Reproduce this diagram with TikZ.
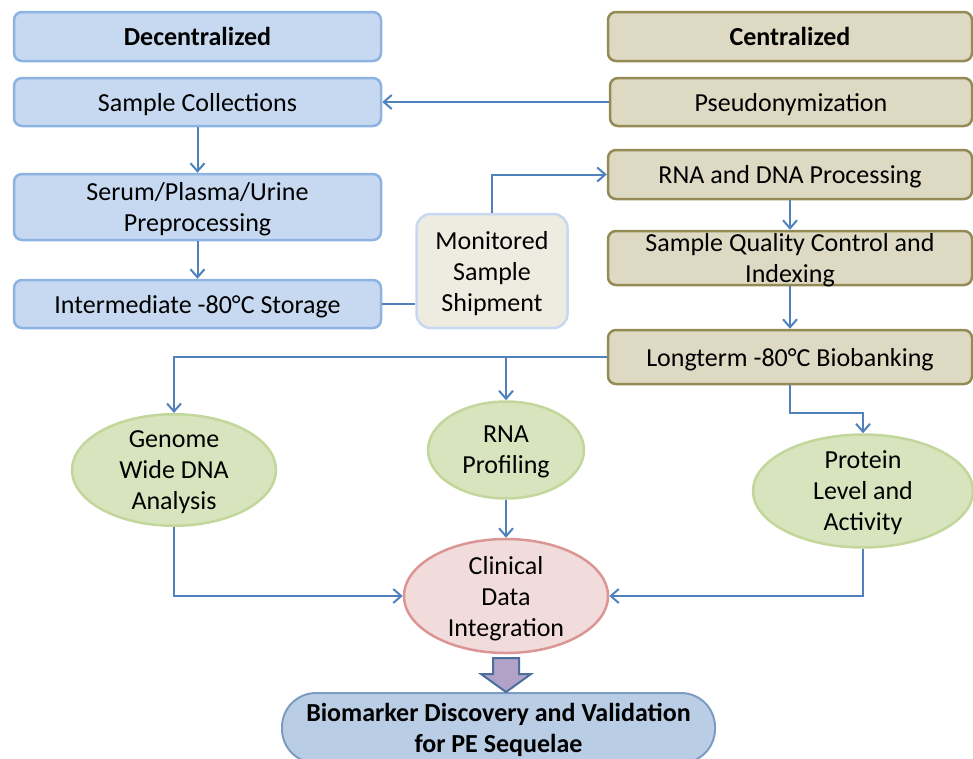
\documentclass[tikz,border=0pt]{standalone}
\usepackage{fontspec}
\setmainfont{Carlito}
\usetikzlibrary{arrows.meta,shapes.geometric}
\definecolor{bfill}{HTML}{C6D9F1}
\definecolor{bdraw}{HTML}{8DB3E2}
\definecolor{tfill}{HTML}{DDD9C3}
\definecolor{tdraw}{HTML}{948A54}
\definecolor{mfill}{HTML}{EEECE1}
\definecolor{mdraw}{HTML}{C6D9F1}
\definecolor{gfill}{HTML}{D7E4BD}
\definecolor{gdraw}{HTML}{C3D69B}
\definecolor{pfill}{HTML}{F2DCDB}
\definecolor{pdraw}{HTML}{D99694}
\definecolor{zfill}{HTML}{B9CDE5}
\definecolor{zdraw}{HTML}{7E9CC2}
\definecolor{afill}{HTML}{B3A2C7}
\definecolor{adraw}{HTML}{4A6E9E}
\definecolor{conn}{HTML}{4F81BD}
\tikzset{
  base/.style={font=\fontsize{26}{31}\selectfont, align=center, inner sep=0pt, text depth=0pt, line width=2.5pt},
  bluebox/.style={base, draw=bdraw, fill=bfill, rounded corners=8pt, minimum width=367pt},
  tanbox/.style={base, draw=tdraw, fill=tfill, rounded corners=8pt, minimum width=364pt},
  shipbox/.style={base, draw=mdraw, fill=mfill, rounded corners=14pt, minimum width=151pt, minimum height=114pt},
  greenell/.style={base, ellipse, draw=gdraw, fill=gfill},
  pinkell/.style={base, ellipse, draw=pdraw, fill=pfill},
  finalbox/.style={base, font=\fontsize{26}{31}\selectfont\bfseries, draw=zdraw, fill=zfill, rounded corners=34pt, minimum width=433pt, minimum height=70pt, line width=2pt},
  conn/.style={draw=conn, line width=2pt, -{Straight Barb[length=8pt,width=14pt,line width=2pt]}},
  connplain/.style={draw=conn, line width=2pt},
  bigarrow/.style={draw=adraw, fill=afill, line width=2pt, line join=miter}
}
\begin{document}
\begin{tikzpicture}[x=1pt,y=-1pt]
\useasboundingbox (0,0) rectangle (973,758);
% left column
\node[bluebox, minimum height=49pt, font=\fontsize{26}{31}\selectfont\bfseries] (dec) at (197.5,36.5) {Decentralized};
\node[bluebox, minimum height=48pt] (sc) at (197.5,102) {Sample Collections};
\node[bluebox, minimum height=66pt] (serum) at (197.5,207) {Serum/Plasma/Urine\\Preprocessing};
\node[bluebox, minimum height=48pt] (inter) at (197.5,304) {Intermediate -80°C Storage};
% middle
\node[shipbox] (ship) at (492,271) {Monitored\\Sample\\Shipment};
% right column
\node[tanbox, minimum height=49pt, font=\fontsize{26}{31}\selectfont\bfseries] (cen) at (790,36.5) {Centralized};
\node[tanbox, minimum height=48pt, minimum width=362pt] (pseudo) at (791,102) {Pseudonymization};
\node[tanbox, minimum height=49pt] (rna) at (790,174.5) {RNA and DNA Processing};
\node[tanbox, minimum height=54pt] (sqc) at (790,258) {Sample Quality Control and\\Indexing};
\node[tanbox, minimum height=54pt] (long) at (790,357) {Longterm -80°C Biobanking};
% ellipses
\node[greenell, minimum width=204pt, minimum height=106pt] (gen) at (174,470) {Genome\\Wide DNA\\Analysis};
\node[greenell, minimum width=156pt, minimum height=97pt] (rnap) at (506,450) {RNA\\Profiling};
\node[greenell, minimum width=220pt, minimum height=98pt] (prot) at (863,491) {Protein\\Level and\\Activity};
\node[pinkell, minimum width=204pt, minimum height=114pt] (clin) at (506,596) {Clinical\\Data\\Integration};
% final box
\node[finalbox] (bio) at (498.5,728) {Biomarker Discovery and Validation\\for PE Sequelae};
% big arrow
\draw[bigarrow] (493,658) -- (519,658) -- (519,674) -- (531,674) -- (506,692) -- (481,674) -- (493,674) -- cycle;
% connectors
\draw[conn] (pseudo.west) -- (sc.east);
\draw[conn] (sc.south) -- (serum.north);
\draw[conn] (serum.south) -- (inter.north);
\draw[connplain] (inter.east) -- (inter.east -| ship.west);
\draw[conn] (ship.north) |- (rna.west);
\draw[conn] (rna.south) -- (sqc.north);
\draw[conn] (sqc.south) -- (long.north);
\draw[conn] (long.west) -| (gen.north);
\draw[conn] (long.west -| rnap.north) -- (rnap.north);
\draw[conn] (long.south) -- ++(0,28) -| (prot.north);
\draw[conn] (gen.south) |- (clin.west);
\draw[conn] (rnap.south) -- (clin.north);
\draw[conn] (prot.south) |- (clin.east);
\end{tikzpicture}
\end{document}
